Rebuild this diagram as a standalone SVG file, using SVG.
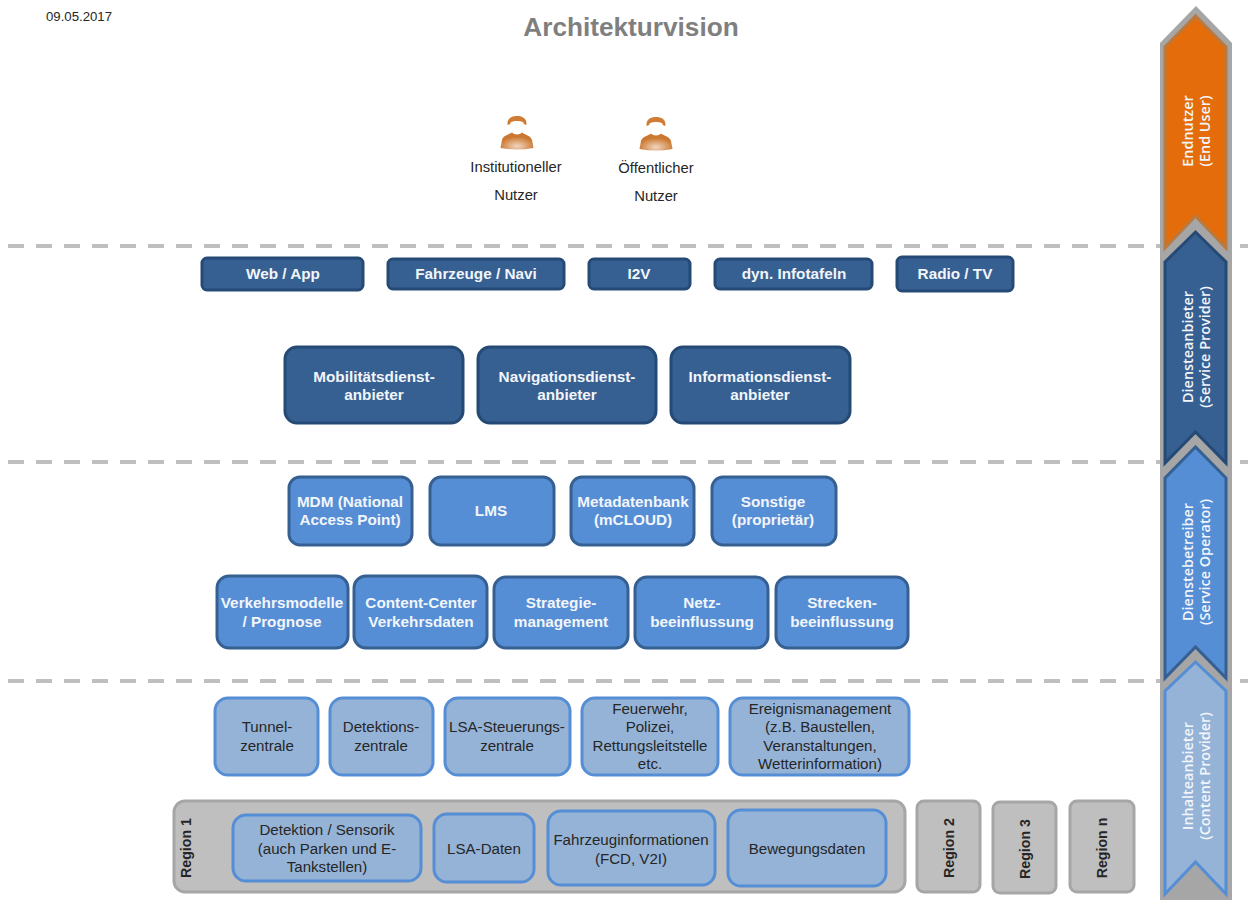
<svg xmlns="http://www.w3.org/2000/svg" width="1248" height="900" viewBox="0 0 1248 900">
<defs>
<radialGradient id="body" cx="50%" cy="80%" r="55%"><stop offset="0" stop-color="#f0d6c0"/><stop offset="1" stop-color="#cb7730"/></radialGradient>
<g id="user"><path d="M-9.500 -24.500 C-10 -31 -5 -33 0 -33 C5 -33 10 -31 9.500 -24.500 C8 -23.500 6.500 -25 6 -27 C3 -28.500 -3 -28.500 -6 -27 C-6.500 -25 -8 -23.500 -9.500 -24.500Z" fill="#d17c35"/><path d="M-16.500 -1 L-15 -9 C-14 -13 -9 -14 -5 -16.500 C-3 -14 3 -14 5 -16.500 C9 -14 14 -13 15 -9 L16.500 -1 Q0 2 -16.500 -1 Z" fill="url(#body)"/></g>
</defs>
<style>
text{font-family:"Liberation Sans",Arial,sans-serif;text-anchor:middle}
.t{font-size:15.300px;font-weight:bold;fill:#f2f5fa}
.s{font-size:15.100px;fill:#262626}
.u{font-size:14.800px;fill:#262626}
.side{font-family:"Open Sans","Noto Sans",sans-serif;font-size:14.400px;font-weight:600;fill:#f2f5fa}
.r{font-size:14.200px;font-weight:bold;fill:#262626}
.a{fill:#376092;stroke:#254a75;stroke-width:3}
.b{fill:#558ed5;stroke:#376092;stroke-width:3}
.c{fill:#95b3d7;stroke:#558ed5;stroke-width:3}
.g{fill:#bfbfbf;stroke:#a6a6a6;stroke-width:3}
.d{stroke:#bfbfbf;stroke-width:4;stroke-dasharray:16 12;fill:none}
</style>
<text x="79" y="21" font-size="13.200" fill="#262626">09.05.2017</text>
<text x="631" y="36" font-size="26.200" font-weight="bold" fill="#7f7f7f">Architekturvision</text>
<g id="connectors">
<path class="d" d="M8 246H1248"/><path class="d" d="M8 462H1248"/><path class="d" d="M8 681H1248"/>
</g>
<g id="user1"><use href="#user" x="517" y="149"/><text class="u" x="516" y="172">Institutioneller</text><text class="u" x="516" y="200">Nutzer</text></g>
<g id="user2"><use href="#user" x="656" y="150"/><text class="u" x="656" y="173">Öffentlicher</text><text class="u" x="656" y="201">Nutzer</text></g>
<g id="band">
<path fill="#a6a6a6" d="M1160 43L1196 6L1232 43V900H1160Z"/>
<path fill="#e46c0a" stroke="#b9793f" stroke-width="3" d="M1165 47L1195.500 16L1226 47V248L1195.500 216L1165 248Z"/>
<path class="a" d="M1165 262L1195.500 232L1226 262V463L1195.500 432L1165 463Z"/>
<path class="b" d="M1165 478L1195.500 447L1226 478V678L1195.500 647L1165 678Z"/>
<path class="c" d="M1165 691L1195.500 662L1226 691V894L1195.500 862L1165 894Z"/>
<text class="side" transform="translate(1192.500 131) rotate(-90)">Endnutzer</text><text class="side" transform="translate(1210 131) rotate(-90)">(End User)</text>
<text class="side" transform="translate(1192.500 347) rotate(-90)">Diensteanbieter</text><text class="side" transform="translate(1210 347) rotate(-90)">(Service Provider)</text>
<text class="side" transform="translate(1192.500 562) rotate(-90)">Dienstebetreiber</text><text class="side" transform="translate(1210 562) rotate(-90)">(Service Operator)</text>
<text class="side" transform="translate(1192.500 776) rotate(-90)">Inhalteanbieter</text><text class="side" transform="translate(1210 776) rotate(-90)">(Content Provider)</text>
</g>
<g id="web"><rect class="a" x="202" y="258" width="161" height="32" rx="5"/><text class="t" x="283" y="279">Web / App</text></g>
<g id="fahrzeuge"><rect class="a" x="388" y="259" width="176" height="30" rx="5"/><text class="t" x="476" y="279">Fahrzeuge / Navi</text></g>
<g id="i2v"><rect class="a" x="589" y="259" width="101" height="30" rx="5"/><text class="t" x="639" y="279">I2V</text></g>
<g id="infotafeln"><rect class="a" x="715" y="259" width="157" height="30" rx="5"/><text class="t" x="794" y="279">dyn. Infotafeln</text></g>
<g id="radio"><rect class="a" x="897" y="257" width="116" height="34" rx="5"/><text class="t" x="955" y="279">Radio / TV</text></g>
<g id="mob"><rect class="a" x="285" y="347" width="178" height="76" rx="12"/><text class="t" x="374" y="382">Mobilitätsdienst-</text><text class="t" x="374" y="400">anbieter</text></g>
<g id="nav"><rect class="a" x="478" y="347" width="178" height="76" rx="12"/><text class="t" x="567" y="382">Navigationsdienst-</text><text class="t" x="567" y="400">anbieter</text></g>
<g id="info"><rect class="a" x="671" y="347" width="179" height="76" rx="12"/><text class="t" x="760" y="382">Informationsdienst-</text><text class="t" x="760" y="400">anbieter</text></g>
<g id="mdm"><rect class="b" x="289" y="477" width="123" height="68" rx="11"/><text class="t" x="350" y="507">MDM (National</text><text class="t" x="350" y="525">Access Point)</text></g>
<g id="lms"><rect class="b" x="430" y="477" width="124" height="68" rx="11"/><text class="t" x="491" y="516">LMS</text></g>
<g id="meta"><rect class="b" x="571" y="477" width="123" height="68" rx="11"/><text class="t" x="633" y="507">Metadatenbank</text><text class="t" x="633" y="525">(mCLOUD)</text></g>
<g id="sonstige"><rect class="b" x="712" y="477" width="124" height="68" rx="11"/><text class="t" x="773" y="507">Sonstige</text><text class="t" x="773" y="525">(proprietär)</text></g>
<g id="vm"><rect class="b" x="217" y="576" width="131" height="72" rx="12"/><text class="t" x="282" y="608">Verkehrsmodelle</text><text class="t" x="282" y="627">/ Prognose</text></g>
<g id="cc"><rect class="b" x="354" y="576" width="133" height="72" rx="12"/><text class="t" x="421" y="608">Content-Center</text><text class="t" x="421" y="627">Verkehrsdaten</text></g>
<g id="sm"><rect class="b" x="494" y="577" width="134" height="71" rx="12"/><text class="t" x="561" y="608">Strategie-</text><text class="t" x="561" y="627">management</text></g>
<g id="nb"><rect class="b" x="635" y="577" width="133" height="71" rx="12"/><text class="t" x="702" y="608">Netz-</text><text class="t" x="702" y="627">beeinflussung</text></g>
<g id="sb"><rect class="b" x="776" y="577" width="132" height="71" rx="12"/><text class="t" x="842" y="608">Strecken-</text><text class="t" x="842" y="627">beeinflussung</text></g>
<g id="tunnel"><rect class="c" x="215" y="698" width="103" height="77" rx="13"/><text class="s" x="267" y="732">Tunnel-</text><text class="s" x="267" y="751">zentrale</text></g>
<g id="det"><rect class="c" x="330" y="698" width="103" height="77" rx="13"/><text class="s" x="381" y="732">Detektions-</text><text class="s" x="381" y="751">zentrale</text></g>
<g id="lsa"><rect class="c" x="445" y="698" width="125" height="77" rx="13"/><text class="s" x="507" y="732">LSA-Steuerungs-</text><text class="s" x="507" y="751">zentrale</text></g>
<g id="feuer"><rect class="c" x="582" y="698" width="136" height="77" rx="13"/><text class="s" x="650" y="714">Feuerwehr,</text><text class="s" x="650" y="732">Polizei,</text><text class="s" x="650" y="751">Rettungsleitstelle</text><text class="s" x="650" y="769">etc.</text></g>
<g id="ereignis"><rect class="c" x="730" y="698" width="179" height="77" rx="13"/><text class="s" x="820" y="714">Ereignismanagement</text><text class="s" x="820" y="732">(z.B. Baustellen,</text><text class="s" x="820" y="751">Veranstaltungen,</text><text class="s" x="820" y="769">Wetterinformation)</text></g>
<g id="region1"><rect class="g" x="174" y="801" width="731" height="91" rx="11"/><text class="r" transform="translate(191 848) rotate(-90)">Region 1</text></g>
<g id="sensorik"><rect class="c" x="233" y="815" width="188" height="66" rx="13"/><text class="s" x="327" y="835">Detektion / Sensorik</text><text class="s" x="327" y="854">(auch Parken und E-</text><text class="s" x="327" y="872">Tankstellen)</text></g>
<g id="lsadaten"><rect class="c" x="434" y="814" width="100" height="68" rx="13"/><text class="s" x="484" y="854">LSA-Daten</text></g>
<g id="fcd"><rect class="c" x="548" y="811" width="167" height="74" rx="13"/><text class="s" x="631" y="845">Fahrzeuginformationen</text><text class="s" x="631" y="864">(FCD, V2I)</text></g>
<g id="beweg"><rect class="c" x="728" y="810" width="158" height="76" rx="13"/><text class="s" x="807" y="854">Bewegungsdaten</text></g>
<g id="region2"><rect class="g" x="917" y="801" width="63" height="91" rx="7"/><text class="r" transform="translate(954 848) rotate(-90)">Region 2</text></g>
<g id="region3"><rect class="g" x="993" y="802" width="63" height="91" rx="7"/><text class="r" transform="translate(1030 849) rotate(-90)">Region 3</text></g>
<g id="regionn"><rect class="g" x="1070" y="801" width="64" height="91" rx="7"/><text class="r" transform="translate(1107 848) rotate(-90)">Region n</text></g>
</svg>
